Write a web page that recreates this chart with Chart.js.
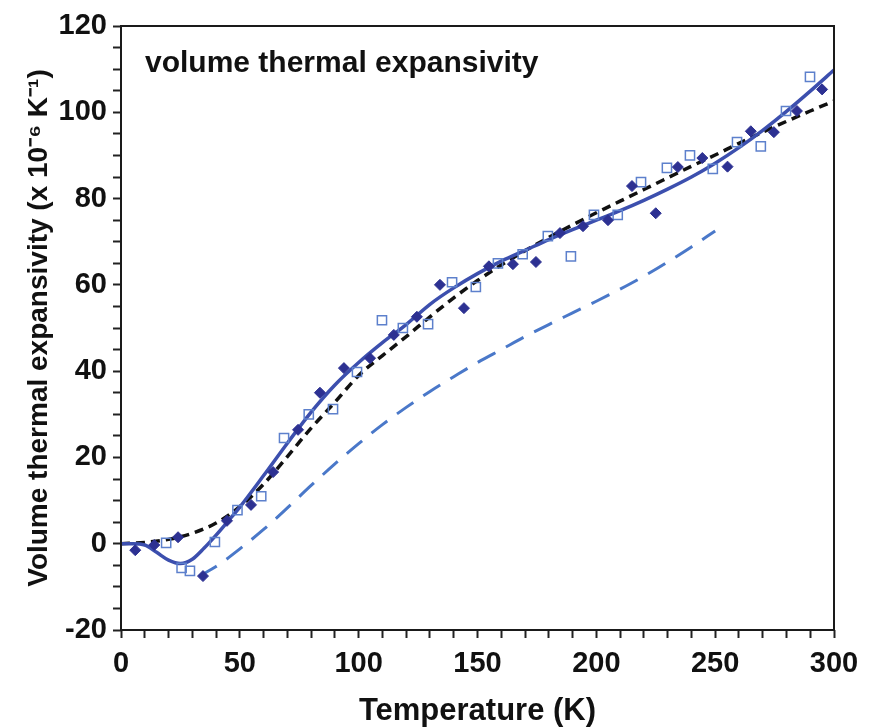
<!DOCTYPE html>
<html>
<head>
<meta charset="utf-8">
<script src="https://cdn.jsdelivr.net/npm/chart.js@4.4.0/dist/chart.umd.min.js"></script>
<style>
  html, body { margin: 0; padding: 0; background: #fff; }
  #wrap { width: 870px; height: 727px; }
</style>
</head>
<body>
<div id="wrap"><canvas id="chart" width="870" height="727"></canvas></div>
<script>
// measured points (filled diamonds)
const diamondT = [6, 14, 24, 34.5, 44.6, 54.7, 64, 74.5, 83.7, 93.8, 104.8, 114.8, 124.5, 134.2, 144.3,
  154.8, 164.9, 174.6, 184.7, 194.4, 204.9, 215, 225, 234.3, 244.6, 255.2, 265, 274.7, 284.4, 295];
const diamondA = [-1.5, -0.3, 1.5, -7.5, 5.3, 9, 16.6, 26.4, 35, 40.7, 43, 48.4, 52.6, 60, 54.6,
  64.3, 64.8, 65.3, 72, 73.6, 75, 82.9, 76.6, 87.3, 89.4, 87.4, 95.6, 95.4, 100.3, 105.3];

// measured points (open squares)
const squareT = [19, 25.5, 29, 39.5, 49, 59, 68.6, 79, 89.2, 99.3, 109.8, 118.6, 129.2, 139.3, 149.3,
  158.6, 169, 179.6, 189.3, 199, 209, 218.8, 229.7, 239.4, 249, 259.2, 269.2, 279.8, 289.9];
const squareA = [0.2, -5.6, -6.3, 0.4, 7.8, 11, 24.5, 30, 31.2, 39.8, 51.8, 50, 50.9, 60.6, 59.5,
  65, 67.1, 71.3, 66.6, 76.2, 76.2, 83.8, 87.1, 90, 86.9, 93.1, 92.1, 100.3, 108.2];

// solid fit curve
const fitT = [0, 5, 10, 15, 20, 25, 30, 35, 40, 45, 50, 60, 70, 80, 90, 100, 110, 120, 130, 140,
  150, 160, 170, 180, 190, 200, 210, 220, 230, 240, 250, 260, 270, 280, 290, 300];
const fitA = [0, 0, -0.3, -2, -3.8, -4.6, -3.6, -1, 2, 5.2, 8.5, 15.8, 23.3, 30.5, 36.8, 42, 46.6, 50.8, 55.5, 59.3,
  62.6, 65.5, 68, 70.5, 72.8, 75, 77.2, 79.6, 82.2, 85, 88.2, 91.8, 95.8, 100.2, 104.9, 109.8];

// black dashed curve
const calcT = [0, 10, 20, 30, 40, 50, 60, 70, 80, 90, 100, 110, 120, 130, 140, 150, 160,
  170, 180, 190, 200, 210, 220, 230, 240, 250, 260, 270, 280, 290, 300];
const calcA = [0, 0.3, 1, 2.4, 4.8, 8.6, 13.8, 20.2, 26.8, 32.8, 39, 43.6, 48, 52.6, 57, 61, 64.6,
  67.9, 71, 73.9, 76.7, 79.4, 82.1, 84.8, 87.5, 90.1, 92.8, 95.4, 97.9, 100.3, 102.6];

// light blue dashed curve
const lowT = [33, 40, 50, 60, 70, 80, 90, 100, 110, 120, 130, 140, 150, 160, 170, 180, 190, 200,
  210, 220, 230, 240, 250];
const lowA = [-7.5, -5.3, -1.2, 3.3, 8.3, 13.5, 18.5, 23.2, 27.6, 31.6, 35.3, 38.7, 42, 45, 48, 50.8, 53.5, 56.2,
  59, 62, 65.3, 68.8, 72.5];

const innerTitle = 'volume thermal expansivity';
const xTitle = 'Temperature (K)';
const yTitle = 'Volume thermal expansivity (x 10\u207B\u2076 K\u207B\u00B9)';

const FONT = '"Liberation Sans", Arial, Helvetica, sans-serif';

function pts(xs, ys) {
  return xs.map((x, i) => ({ x: x, y: ys[i] }));
}

// frame round the plot and the label inside it
const framePlugin = {
  id: 'frame',
  afterDraw(chart) {
    const { ctx, chartArea: a } = chart;
    ctx.save();
    ctx.strokeStyle = '#1a1a1a';
    ctx.lineWidth = 2;
    ctx.strokeRect(a.left, a.top, a.right - a.left, a.bottom - a.top);
    ctx.fillStyle = '#111';
    ctx.font = 'bold 30px ' + FONT;
    ctx.textBaseline = 'alphabetic';
    ctx.fillText(innerTitle, a.left + 24, a.top + 46);
    ctx.restore();
  }
};

new Chart(document.getElementById('chart'), {
  type: 'scatter',
  data: {
    datasets: [
      {
        data: pts(diamondT, diamondA),
        pointStyle: 'rectRot',
        pointRadius: 5.5,
        backgroundColor: '#2d3192',
        borderColor: '#2d3192',
        borderWidth: 1
      },
      {
        data: pts(squareT, squareA),
        pointStyle: 'rect',
        pointRadius: 6.5,
        backgroundColor: 'rgba(255,255,255,0)',
        borderColor: '#5d80cc',
        borderWidth: 1.5
      },
      {
        data: pts(fitT, fitA),
        showLine: true,
        pointRadius: 0,
        borderColor: '#3c4fae',
        borderWidth: 3.5,
        cubicInterpolationMode: 'monotone'
      },
      {
        data: pts(calcT, calcA),
        showLine: true,
        pointRadius: 0,
        borderColor: '#111',
        borderWidth: 3.5,
        borderDash: [9, 6],
        cubicInterpolationMode: 'monotone'
      },
      {
        data: pts(lowT, lowA),
        showLine: true,
        pointRadius: 0,
        borderColor: '#4a78c9',
        borderWidth: 3,
        borderDash: [20, 12],
        cubicInterpolationMode: 'monotone'
      }
    ]
  },
  options: {
    responsive: false,
    animation: false,
    devicePixelRatio: 1,
    layout: { padding: { top: 26, right: 36, left: 0, bottom: 0 } },
    plugins: {
      legend: { display: false },
      tooltip: { enabled: false }
    },
    scales: {
      x: {
        type: 'linear',
        min: 0,
        max: 300,
        border: { display: false },
        grid: { drawOnChartArea: false, drawTicks: true, tickLength: 8, tickColor: '#222', tickWidth: 2 },
        ticks: {
          stepSize: 10,
          autoSkip: false,
          maxRotation: 0,
          padding: 9,
          color: '#111',
          font: { family: FONT, size: 29, weight: 'bold' },
          callback: v => (v % 50 === 0 ? v : '')
        },
        title: {
          display: true,
          text: xTitle,
          color: '#111',
          font: { family: FONT, size: 31, weight: 'bold' },
          padding: { top: 0, bottom: -3 }
        },
        afterFit: s => { s.height = 97; }
      },
      y: {
        type: 'linear',
        min: -20,
        max: 120,
        border: { display: false },
        grid: { drawOnChartArea: false, drawTicks: true, tickLength: 8, tickColor: '#222', tickWidth: 2 },
        ticks: {
          stepSize: 5,
          autoSkip: false,
          padding: 6,
          color: '#111',
          font: { family: FONT, size: 29, weight: 'bold' },
          callback: v => (v % 20 === 0 ? v : '')
        },
        title: {
          display: true,
          text: yTitle,
          color: '#111',
          font: { family: FONT, size: 28, weight: 'bold' },
          padding: { top: 22, bottom: 0 }
        },
        afterFit: s => { s.width = 121; }
      }
    }
  },
  plugins: [framePlugin]
});
</script>
</body>
</html>
